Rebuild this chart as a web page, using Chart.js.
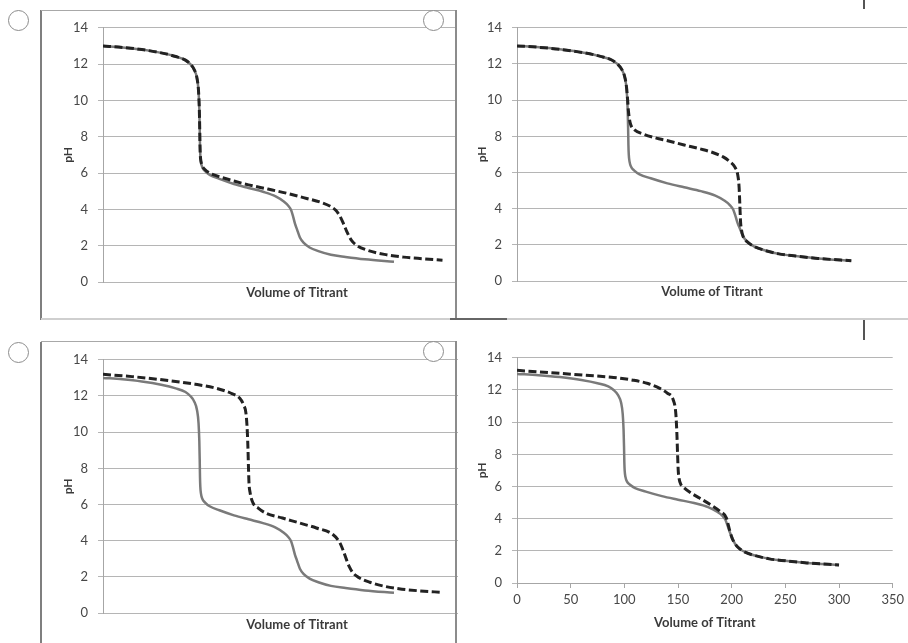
<!DOCTYPE html>
<html>
<head>
<meta charset="utf-8">
<script src="https://cdn.jsdelivr.net/npm/chart.js@4.4.1/dist/chart.umd.min.js"></script>
<style>
body { margin: 0; background: #fff; }
#wrap { position: relative; width: 908px; height: 643px; overflow: hidden; background: #fff; }
canvas { position: absolute; }
.ln { position: absolute; }
.radio { position: absolute; width: 19px; height: 19px; border: 1px solid #8c8c8c; border-radius: 50%; background: #fff; }
</style>
</head>
<body>
<div id="wrap">
  <canvas id="c1" width="450" height="308" style="left:41px;top:10px"></canvas>
  <canvas id="c2" width="451" height="308" style="left:457px;top:10px;background:#fff"></canvas>
  <canvas id="c3" width="450" height="301" style="left:41px;top:342px"></canvas>
  <canvas id="c4" width="450" height="303" style="left:458px;top:340px;background:#fff"></canvas>

  <!-- frames around the left panels -->
  <div class="ln" style="left:40px;top:10px;width:2px;height:310px;background:#7f7f7f"></div>
  <div class="ln" style="left:41px;top:10px;width:415px;height:1px;background:#a8a8a8"></div>
  <div class="ln" style="left:455px;top:10px;width:2px;height:309px;background:#8c8c8c"></div>
  <div class="ln" style="left:41px;top:318px;width:867px;height:2px;background:#cfcfcf"></div>
  <div class="ln" style="left:450px;top:318px;width:57px;height:2px;background:#666"></div>
  <div class="ln" style="left:40px;top:342px;width:2px;height:301px;background:#7f7f7f"></div>
  <div class="ln" style="left:41px;top:341px;width:415px;height:1px;background:#a8a8a8"></div>
  <div class="ln" style="left:455px;top:341px;width:2px;height:302px;background:#8c8c8c"></div>
  <div class="ln" style="left:863px;top:0px;width:2px;height:9px;background:#555"></div>
  <div class="ln" style="left:863px;top:320px;width:2px;height:20px;background:#555"></div>

  <div class="radio" style="left:8px;top:10px"></div>
  <div class="radio" style="left:423px;top:10px"></div>
  <div class="radio" style="left:8px;top:342px"></div>
  <div class="radio" style="left:423px;top:341px"></div>
</div>
<script>
// reference titration (solid grey curve, same in every panel)
const volSolid = [0, 20, 40, 60, 75, 85, 90, 94, 97, 98.5, 99.3, 99.7, 100, 100.3, 101, 102.5, 105, 110, 120, 135, 150, 165, 178, 186, 191, 194, 196, 198, 200, 203, 207, 213, 222, 235, 250, 270, 300];
const phSolid = [13.0, 12.92, 12.8, 12.62, 12.42, 12.22, 12.0, 11.7, 11.2, 10.5, 9.5, 8.5, 7.5, 7.0, 6.6, 6.3, 6.12, 5.9, 5.68, 5.4, 5.18, 4.97, 4.72, 4.45, 4.2, 3.95, 3.6, 3.2, 2.9, 2.45, 2.15, 1.9, 1.7, 1.5, 1.38, 1.25, 1.12];

// dashed curves, one per panel
const volDash1 = [0, 20, 40, 60, 75, 85, 90, 94, 97, 98.5, 99.3, 99.7, 100, 100.3, 101, 102.5, 105, 110, 120, 135, 150, 170, 190, 210, 225, 235, 240, 244, 248, 252, 256, 262, 272, 290, 310, 330, 350];
const phDash1 = [13.0, 12.92, 12.8, 12.62, 12.42, 12.22, 12.0, 11.7, 11.2, 10.5, 9.5, 8.5, 7.5, 7.0, 6.65, 6.38, 6.2, 6.0, 5.8, 5.56, 5.35, 5.12, 4.88, 4.6, 4.38, 4.15, 3.95, 3.65, 3.2, 2.7, 2.3, 2.0, 1.76, 1.52, 1.37, 1.28, 1.2];

const volDash2 = [0, 20, 40, 60, 75, 85, 90, 94, 97, 98.5, 99.3, 100, 100.8, 102, 105, 113, 125, 134, 150, 164, 175, 185, 191, 195.5, 198, 199.3, 200, 200.6, 201.5, 203, 207, 213, 222, 235, 250, 270, 300];
const phDash2 = [13.0, 12.92, 12.8, 12.62, 12.42, 12.22, 12.0, 11.7, 11.2, 10.6, 10.0, 9.4, 9.0, 8.65, 8.38, 8.13, 7.9, 7.77, 7.52, 7.31, 7.12, 6.86, 6.6, 6.3, 5.9, 5.2, 4.2, 3.3, 2.8, 2.45, 2.15, 1.9, 1.7, 1.5, 1.38, 1.25, 1.12];

const volDash3 = [0, 30, 65, 95, 117, 132, 141, 145, 147.5, 148.8, 149.5, 150, 150.5, 151.5, 154.5, 160, 168, 185, 203, 220, 237, 244, 248, 251, 254, 258, 264, 275, 290, 305, 325, 350];
const phDash3 = [13.2, 13.07, 12.87, 12.65, 12.42, 12.15, 11.87, 11.5, 11.0, 10.0, 9.0, 8.0, 7.2, 6.7, 6.1, 5.8, 5.52, 5.25, 4.97, 4.7, 4.34, 3.9, 3.4, 2.95, 2.55, 2.2, 1.95, 1.7, 1.48, 1.34, 1.23, 1.14];

const volDash4 = [0, 30, 62, 90, 108, 122, 133, 140, 145.5, 148, 149, 149.6, 150.2, 151, 152.5, 156, 162, 170, 180, 189, 195, 198, 200, 203, 207, 213, 222, 235, 250, 270, 300];
const phDash4 = [13.22, 13.08, 12.92, 12.78, 12.61, 12.4, 12.1, 11.8, 11.39, 10.5, 9.2, 8.0, 7.0, 6.5, 6.15, 5.9, 5.6, 5.28, 4.88, 4.46, 4.05, 3.3, 2.85, 2.45, 2.15, 1.9, 1.7, 1.5, 1.38, 1.25, 1.12];

Chart.defaults.font.family = "Lato, 'Open Sans', sans-serif";

function pts(vol, ph) {
  return vol.map((v, i) => ({x: v, y: ph[i]}));
}

function makeChart(id, dashVol, dashPh, o) {
  new Chart(document.getElementById(id), {
    type: 'line',
    data: {
      datasets: [{
        data: pts(dashVol, dashPh),
        borderColor: '#222',
        borderWidth: 3,
        borderDash: [8, 3.5],
        pointRadius: 0,
        cubicInterpolationMode: 'monotone'
      }, {
        data: pts(volSolid, phSolid),
        borderColor: '#7a7a7a',
        borderWidth: 2.5,
        pointRadius: 0,
        cubicInterpolationMode: 'monotone'
      }]
    },
    options: {
      responsive: false,
      animation: false,
      events: [],
      layout: {padding: {top: o.top, right: o.right, left: 0, bottom: 0}},
      plugins: {legend: {display: false}, tooltip: {enabled: false}},
      scales: {
        x: {
          type: 'linear', min: 0, max: o.xMax,
          afterFit: s => { s.height = o.xH; },
          ticks: {display: o.xTicks, stepSize: 50, color: '#474747', font: {size: 13}, padding: 4, maxRotation: 0},
          grid: {display: o.xTicks, drawOnChartArea: false, tickLength: 5, color: '#a6a6a6'},
          border: {display: o.xTicks, color: '#a6a6a6'},
          title: {display: true, text: 'Volume of Titrant', color: '#3a3a3a',
                  font: {size: 13, weight: 'bold'}, padding: {top: 0, bottom: o.xTitlePad}}
        },
        y: {
          min: 0, max: 14,
          afterFit: s => { s.width = o.yW; },
          ticks: {stepSize: 2, color: '#474747', font: {size: 13}, padding: 10},
          grid: {color: '#b5b5b5', tickLength: 5},
          border: {color: '#a6a6a6'},
          title: {display: true, text: 'pH', color: '#3a3a3a',
                  font: {size: 12, weight: 'bold'}, padding: {top: o.yTitlePad, bottom: 0}}
        }
      }
    }
  });
}

makeChart('c1', volDash1, phDash1, {top: 14, right: 0, xMax: 400, xH: 36, xTicks: false, xTitlePad: 17.2, yW: 62, yTitlePad: 19.8});
makeChart('c2', volDash2, phDash2, {top: 14, right: 1, xMax: 350, xH: 37, xTicks: false, xTitlePad: 18.2, yW: 60, yTitlePad: 17.8});
makeChart('c3', volDash3, phDash3, {top: 14, right: 0, xMax: 400, xH: 30, xTicks: false, xTitlePad: 10.2, yW: 62, yTitlePad: 19.8});
makeChart('c4', volDash4, phDash4, {top: 14, right: 15, xMax: 350, xH: 60, xTicks: true, xTitlePad: 12.2, yW: 59, yTitlePad: 16.8});
</script>
</body>
</html>
